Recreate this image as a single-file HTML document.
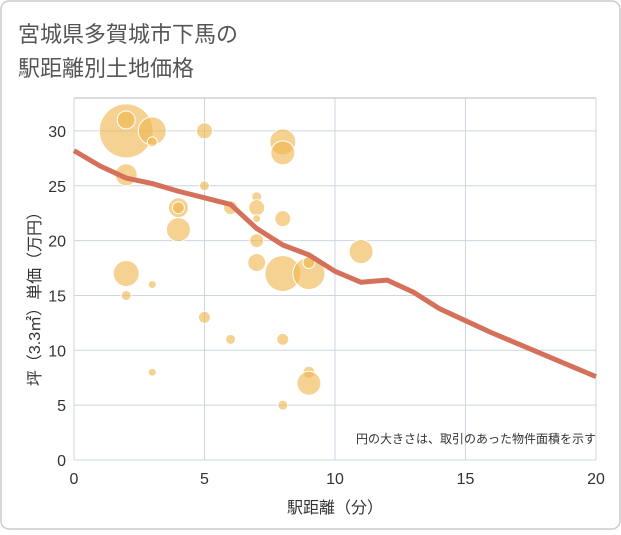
<!DOCTYPE html>
<html><head><meta charset="utf-8"><style>
body{margin:0;background:#fff}
svg text{font-family:"Liberation Sans","Noto Sans CJK JP",sans-serif}
</style></head><body>
<svg width="621" height="530" xmlns="http://www.w3.org/2000/svg">
<rect x="1" y="1" width="619" height="528" rx="8" fill="#fff" stroke="#ccc" stroke-width="1.5"/>
<text x="18" y="42" font-size="22" fill="#555">宮城県多賀城市下馬の</text>
<text x="18" y="76" font-size="22" fill="#555">駅距離別土地価格</text>
<g id="grid"></g>
<g id="bubbles"></g>
<g id="line"></g>
<g id="axes"></g>
<text x="596" y="443" font-size="12" fill="#333" text-anchor="end">円の大きさは、取引のあった物件面積を示す</text>
<text x="335" y="513" font-size="16" fill="#333" text-anchor="middle">駅距離（分）</text>
<text transform="translate(40,295) rotate(-90)" font-size="16" fill="#333" text-anchor="middle">坪（3.3㎡）単価（万円）</text>
</svg>
<script>
const xTicks=[0,5,10,15,20];
const yTicks=[0,5,10,15,20,25,30];
const bubX=[2,2,3,3,5,8,8,2,5,4,4,6,7,7,7,8,4,7,11,2,3,7,8,9,9,2,5,6,8,3,9,9,8];
const bubY=[30,31,30,29,30,29,28,26,25,23,23,23,24,23,22,22,21,20,19,17,16,18,17,17,18,15,13,11,11,8,8,7,5];
const bubR=[27,9,14,5,8,13,12,11,5,10,6,7,5,8,4,8,12,7,12,13,4,9,18,16,6,5,6,5,6,4,6,12,5];
const lineX=[0,1,2,3,4,5,6,7,8,9,10,11,12,13,14,15,16,17,18,19,20];
const lineY=[28.2,26.8,25.7,25.2,24.5,23.9,23.3,21.1,19.6,18.7,17.2,16.2,16.4,15.3,13.8,12.7,11.6,10.6,9.6,8.6,7.6];
const X0=74,X1=596,Y0=460,Y1=98,YMAX=33;
const sx=v=>X0+v*(X1-X0)/20;
const sy=v=>Y0-v*(Y0-Y1)/YMAX;
const NS="http://www.w3.org/2000/svg";
function mk(t,a,p){const e=document.createElementNS(NS,t);for(const k in a)e.setAttribute(k,a[k]);p.appendChild(e);return e;}
const gridG=document.getElementById('grid'),axG=document.getElementById('axes');
xTicks.forEach(v=>{
 const l=mk('line',{x1:sx(v),x2:sx(v),y1:Y1,y2:Y0,stroke:'#ccd6e3','stroke-width':1},gridG);
 
 
 const t=mk('text',{x:sx(v),y:484,'font-size':16,fill:'#333','text-anchor':'middle'},axG);
 t.textContent=v;
 
 
});
yTicks.forEach(v=>{
 const l=mk('line',{x1:X0,x2:X1,y1:sy(v),y2:sy(v),stroke:'#ccd6e3','stroke-width':1},gridG);
 
 
 const t=mk('text',{x:66,y:sy(v)+6,'font-size':16,fill:'#333','text-anchor':'end'},axG);
 t.textContent=v;
 
 
});
const plotTop=mk('line',{x1:X0,x2:X1,y1:Y1,y2:Y1,stroke:'#bbb','stroke-width':1},gridG);


const bubG=document.getElementById('bubbles');
bubX.forEach((v,i)=>{
 const c=mk('circle',{cx:sx(v),cy:sy(bubY[i]),r:bubR[i],fill:'#f0b449','fill-opacity':0.6,stroke:'#fff','stroke-width':1},bubG);
 
 
});
const pts=lineX.map((v,i)=>sx(v)+','+sy(lineY[i])).join(' ');
const pl=mk('polyline',{points:pts,fill:'none',stroke:'#d5705a','stroke-width':5,'stroke-linejoin':'round'},document.getElementById('line'));


</script>
</body></html>
